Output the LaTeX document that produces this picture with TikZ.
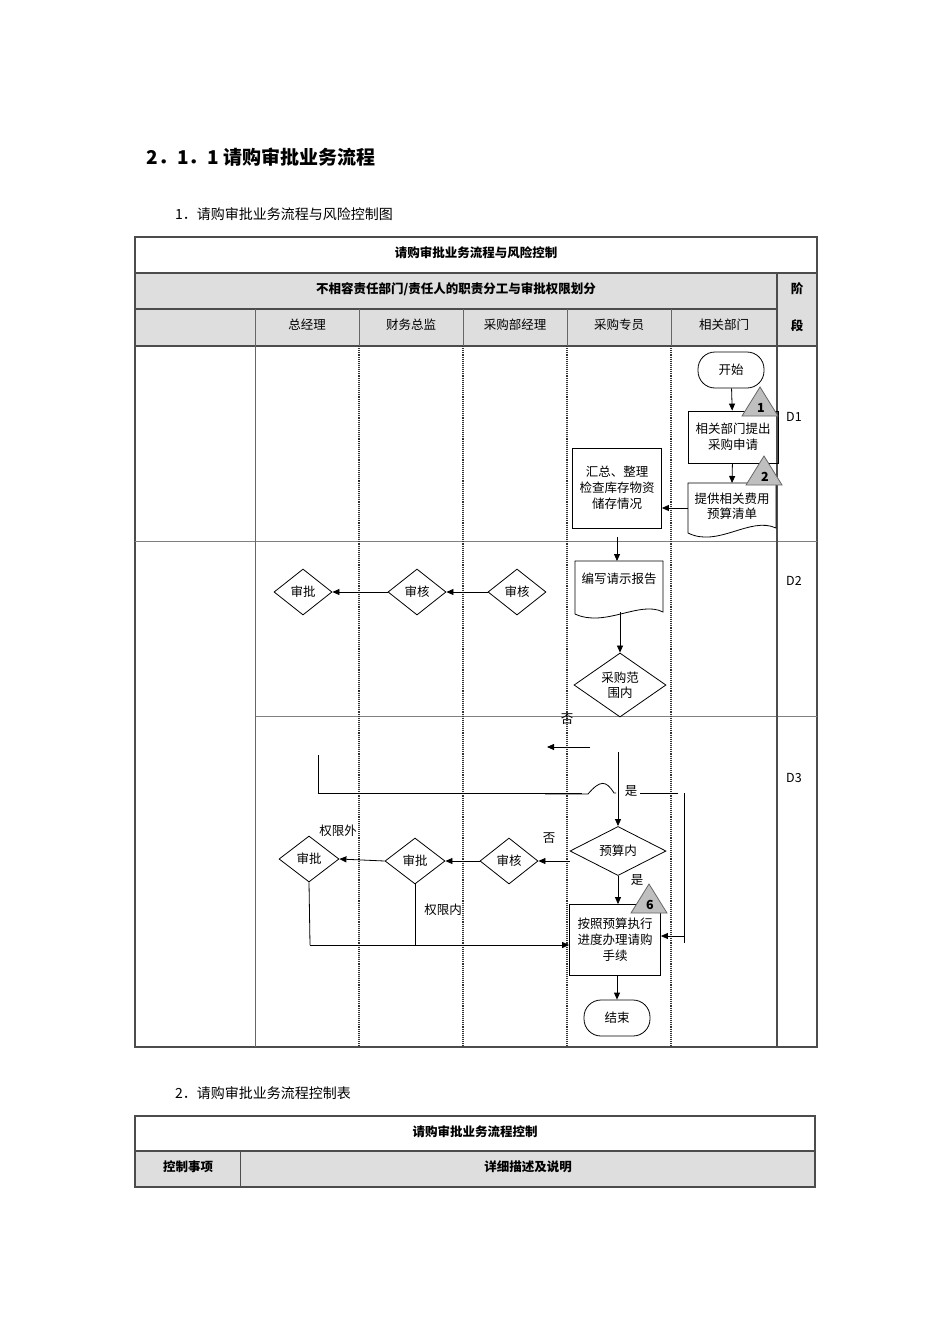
\documentclass[tikz,border=0pt]{standalone}
\usepackage{fontspec}
\setmainfont{Noto Sans CJK SC}
\usetikzlibrary{shapes.geometric,arrows.meta}
\begin{document}
\begin{tikzpicture}[x=1pt,y=-1pt,
  txt/.style={font=\fontsize{12.5}{15}\selectfont,inner sep=0pt},
  btxt/.style={font=\fontsize{12.5}{15}\selectfont\bfseries,inner sep=0pt},
  box/.style={draw,thick,align=center,font=\fontsize{12.5}{16}\selectfont,inner sep=1pt},
  dia/.style={draw,thick,diamond,inner sep=0pt,align=center,font=\fontsize{12.5}{15}\selectfont},
  term/.style={draw,thick,rounded corners=17pt,font=\fontsize{12.5}{15}\selectfont},
  arr/.style={thick,-{Triangle[length=7pt,width=6pt]}},
  ln/.style={thick},
  tbl/.style={draw=black!70,line width=1.2pt},
  lane/.style={black!80,densely dotted,line width=1.1pt},
  tri/.style={draw=black!60,fill=black!25,thick}]
\useasboundingbox (0,0) rectangle (950,1344);
% headings
\node[anchor=west,font=\fontsize{19}{22}\selectfont\bfseries] (h1) at (143,157) {2．1．1 请购审批业务流程};
\node[anchor=west,txt,font=\fontsize{14}{16}\selectfont] (h2) at (175,214) {1．请购审批业务流程与风险控制图};
\node[anchor=west,txt,font=\fontsize{14}{16}\selectfont] (h3) at (175,1093) {2．请购审批业务流程控制表};
% table 1 fills
\fill[black!13] (135,273) rectangle (817,346);
\draw[tbl] (135,237) rectangle (817,1047);
\draw[tbl] (135,273) -- (817,273);
\draw[tbl] (135,309) -- (777,309);
\draw[tbl] (135,346) -- (817,346);
\draw[black!50,thick] (135,541) -- (817,541);
\draw[black!50,thick] (255,716) -- (817,716);
\draw[tbl] (777,273) -- (777,1047);
\draw[black!60,thick] (255,309) -- (255,1047);
\foreach \x in {359,463,567,671}{\draw[black!60,thick] (\x,309)--(\x,346); \draw[lane] (\x,346)--(\x,1047);}
\node[btxt] (t1) at (476,253) {请购审批业务流程与风险控制};
\node[btxt] (t2) at (456,289) {不相容责任部门/责任人的职责分工与审批权限划分};
\node[btxt] (t3) at (797,289) {阶};
\node[btxt] (t4) at (797,326) {段};
\node[txt] (c1) at (307,325) {总经理};
\node[txt] (c2) at (411,325) {财务总监};
\node[txt] (c3) at (515,325) {采购部经理};
\node[txt] (c4) at (619,325) {采购专员};
\node[txt] (c5) at (724,325) {相关部门};
\node[txt] (d1) at (794,417) {D1};
\node[txt] (d2) at (794,581) {D2};
\node[txt] (d3) at (794,778) {D3};
% D1
\node[term,minimum width=66,minimum height=36] (start) at (731,370) {开始};
\node[box,minimum width=90,minimum height=52] (req) at (733,437) {相关部门提出\\采购申请};
\draw[thick] (688,483) -- (776,483) -- (776,528) .. controls (750,516) and (718,548) .. (688,533) -- cycle;
\node[txt,align=center] (bud) at (732,506) {提供相关费用\\预算清单};
\coordinate (budtop) at (732,483);
\coordinate (budleft) at (688,508);
\node[box,minimum width=89,minimum height=80] (sum) at (617,488) {汇总、整理\\检查库存物资\\储存情况};
\draw[tri] (742,416) -- (778,416) -- (760,387) -- cycle; \node[btxt] (n1) at (761,408) {1};
\draw[tri] (746,485) -- (782,485) -- (764,456) -- cycle; \node[btxt] (n2) at (765,477) {2};
\draw[arr] (start) -- (req);
\draw[arr] (req) -- (budtop);
\draw[arr] (budleft) -- (sum.east|-budleft);
% D2
\draw[thick] (575,561) -- (663,561) -- (663,612) .. controls (640,600) and (605,628) .. (575,614) -- cycle;
\node[txt] (rep) at (619,579) {编写请示报告};
\coordinate (reptop) at (617,561);
\coordinate (repbot) at (620,612);
\draw[arr] (617,537) -- (reptop);
\node[dia,minimum width=92,minimum height=46] (scope) at (620,685) {采购范\\围内};
\draw[arr] (repbot) -- (scope.north);
\node[dia,minimum width=58,minimum height=46] (a1) at (517,592) {审核};
\node[dia,minimum width=58,minimum height=46] (a2) at (417,592) {审核};
\node[dia,minimum width=58,minimum height=46] (a3) at (303,592) {审批};
\draw[arr] (a1.west) -- (a2.east);
\draw[arr] (a2.west) -- (a3.east);
% D3
\node[txt] (no1) at (567,719) {否};
\coordinate (nA) at (590,747); \coordinate (nB) at (547,747);
\draw[arr] (nA) -- (nB);
\draw[ln] (318,755) -- (318,793) -- (582,793);
\draw[ln] (545,794) -- (588,794) .. controls (600,780) and (606,780) .. (614,793) -- (616,793);
\draw[ln] (640,793) -- (678,793);
\node[txt] (yes1) at (631,791) {是};
\node[dia,minimum width=96,minimum height=46] (inb) at (618,851) {预算内};
\draw[arr] (618,752) -- (inb.north);
\node[dia,minimum width=58,minimum height=46] (b1) at (509,861) {审核};
\node[dia,minimum width=60,minimum height=46] (b2) at (415,861) {审批};
\node[dia,minimum width=60,minimum height=46] (b3) at (309,859) {审批};
\draw[arr] (inb.west|-b1) -- (b1.east);
\draw[arr] (b1.west) -- (b2.east);
\draw[arr] (b2.west) -- (b3.east);
\node[txt] (no2) at (549,838) {否};
\node[txt] (out) at (338,831) {权限外};
\node[txt] (in) at (443,910) {权限内};
\node[box,minimum width=91,minimum height=71] (proc) at (615,940) {按照预算执行\\进度办理请购\\手续};
\node[txt] (yes2) at (637,880) {是};
\draw[arr] (inb.south) -- (proc.north-|inb.south);
\draw[tri] (631,913) -- (667,913) -- (649,884) -- cycle; \node[btxt] (n6) at (650,905) {6};
\coordinate (jx) at (310,945);
\draw[ln] (b3.south) -- (310,945);
\draw[ln] (b2.south) -- (415,945);
\draw[arr] (jx) -- (proc.west|-jx);
\draw[ln] (684,793) -- (684,943);
\draw[arr] (684,936) -- (proc.east|-0,936);
\node[term,minimum width=66,minimum height=36] (end) at (617,1018) {结束};
\draw[arr] (proc.south-|end) -- (end.north);
% table 2
\fill[black!13] (135,1151) rectangle (815,1187);
\draw[tbl] (135,1116) rectangle (815,1187);
\draw[tbl] (135,1151) -- (815,1151);
\draw[black!70,thick] (240,1151) -- (240,1187);
\node[btxt] (u1) at (475,1132) {请购审批业务流程控制};
\node[btxt] (u2) at (188,1167) {控制事项};
\node[btxt] (u3) at (528,1167) {详细描述及说明};
\end{tikzpicture}
\end{document}
